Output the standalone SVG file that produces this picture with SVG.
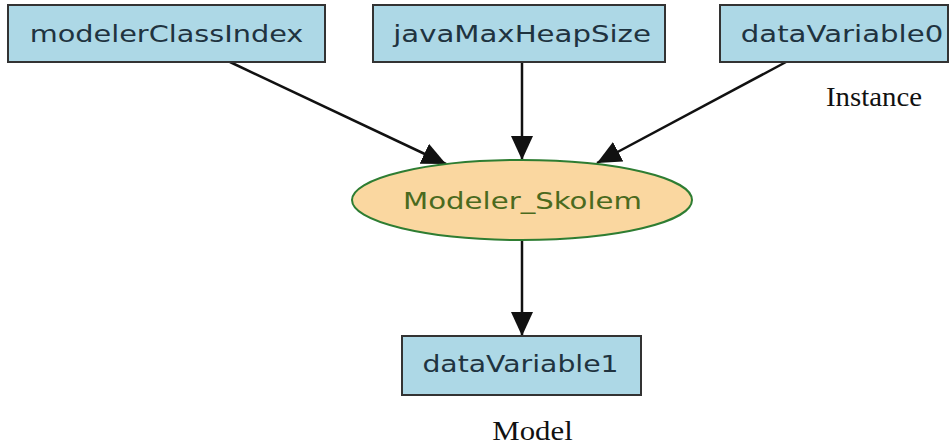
<svg xmlns="http://www.w3.org/2000/svg" width="952" height="447" viewBox="0 0 952 447">
  <style>
    .box { fill: #add8e6; stroke: #333; stroke-width: 2; }
    .oval { fill: #fad7a0; stroke: #2e7d32; stroke-width: 2; }
    .lbl { font-family: "DejaVu Sans", sans-serif; font-size: 23px; fill: #1f3340; text-anchor: middle; }
    .olbl { font-family: "DejaVu Sans", sans-serif; font-size: 23px; fill: #4a6a1e; text-anchor: middle; }
    .cap { font-family: "Liberation Serif", serif; font-size: 28px; fill: #111; text-anchor: middle; }
    .edge { stroke: #111; stroke-width: 2.5; fill: none; marker-end: url(#arrow); }
  </style>
  <defs>
    <marker id="arrow" viewBox="0 0 24 22" refX="24" refY="11" markerWidth="24" markerHeight="22" markerUnits="userSpaceOnUse" orient="auto">
      <path d="M0,0 L24,11 L0,22 z" fill="#111"/>
    </marker>
  </defs>
  <rect width="952" height="447" fill="#fff"/>

  <g id="connectors">
    <line class="edge" x1="230" y1="62" x2="446" y2="164"/>
    <line class="edge" x1="522" y1="62" x2="522" y2="160"/>
    <line class="edge" x1="786" y1="62" x2="597" y2="163"/>
    <line class="edge" x1="522" y1="241" x2="522" y2="336"/>
  </g>

  <!-- labels are drawn with a wide horizontal scale -->
  <g id="modelerClassIndex">
    <rect class="box" x="8" y="5" width="317" height="57"/>
    <text class="lbl" transform="translate(166.5,42) scale(1.25,1)">modelerClassIndex</text>
  </g>
  <g id="javaMaxHeapSize">
    <rect class="box" x="373" y="5" width="292" height="57"/>
    <text class="lbl" transform="translate(522,42) scale(1.27,1)">javaMaxHeapSize</text>
  </g>
  <g id="dataVariable0">
    <rect class="box" x="720" y="5" width="228" height="57"/>
    <text class="lbl" transform="translate(842,42) scale(1.27,1)">dataVariable0</text>
  </g>
  <g id="Modeler_Skolem">
    <ellipse class="oval" cx="522" cy="200" rx="170" ry="40"/>
    <text class="olbl" transform="translate(522.5,209) scale(1.27,1)">Modeler_Skolem</text>
  </g>
  <g id="dataVariable1">
    <rect class="box" x="402" y="336" width="239" height="59"/>
    <text class="lbl" transform="translate(520.5,372) scale(1.23,1)">dataVariable1</text>
  </g>

  <text class="cap" x="874" y="106" textLength="96" lengthAdjust="spacingAndGlyphs">Instance</text>
  <text class="cap" transform="translate(532.5,440) scale(1.1,1)">Model</text>
</svg>
